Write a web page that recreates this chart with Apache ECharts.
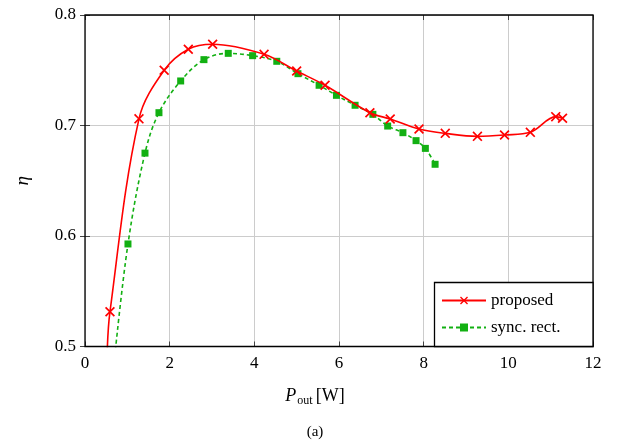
<!DOCTYPE html>
<html>
<head>
<meta charset="utf-8">
<script src="https://cdn.jsdelivr.net/npm/echarts@6/dist/echarts.min.js"></script>
<style>html,body{margin:0;padding:0;background:#fff}#c{width:619px;height:443px}</style>
</head>
<body>
<div id="c"></div>
<script>
// Data
const proposedX = [0.52, 0.59, 1.275, 1.87, 2.44, 3.015, 4.23, 5.0, 5.67, 6.73, 7.21, 7.89, 8.51, 9.27, 9.91, 10.52, 11.12, 11.28];
const proposedY = [0.49, 0.5315, 0.706, 0.750, 0.769, 0.7735, 0.7644, 0.7493, 0.7364, 0.7116, 0.7059, 0.6968, 0.6929, 0.6902, 0.6914, 0.6938, 0.708, 0.7065];
const proposedMarked = [false, true, true, true, true, true, true, true, true, true, true, true, true, true, true, true, true, true];

const syncX = [0.70, 1.015, 1.417, 1.747, 2.26, 2.81, 3.384, 3.96, 4.53, 5.03, 5.53, 5.94, 6.38, 6.80, 7.15, 7.51, 7.82, 8.04, 8.27];
const syncY = [0.49, 0.5928, 0.675, 0.7116, 0.7403, 0.7596, 0.7653, 0.7632, 0.7581, 0.7469, 0.7364, 0.7273, 0.7183, 0.7101, 0.6995, 0.6935, 0.6863, 0.6793, 0.6649];
const syncMarked = [false, true, true, true, true, true, true, true, true, true, true, true, true, true, true, true, true, true, true];

const xTicks = [0, 2, 4, 6, 8, 10, 12];
const yTicks = [0.5, 0.6, 0.7, 0.8];

const seriesNames = ['proposed', 'sync. rect.'];

const FONT = '"Liberation Serif", "DejaVu Serif", serif';
const RED = '#ff0000';
const GREEN = '#12b012';
const XSYM = 'path://M0,1.2 L1.2,0 L5,3.8 L8.8,0 L10,1.2 L6.2,5 L10,8.8 L8.8,10 L5,6.2 L1.2,10 L0,8.8 L3.8,5 Z';

function build(xs, ys, marks) {
  return xs.map((x, i) => marks[i] ? [x, ys[i]] : { value: [x, ys[i]], symbol: 'none' });
}

const chart = echarts.init(document.getElementById('c'), null, { renderer: 'canvas' });

const tickStyle = { show: true, inside: true, length: 5, lineStyle: { color: '#444', width: 1 } };
const gridLine = { show: true, lineStyle: { color: '#cccccc', width: 1 } };

chart.setOption({
  animation: false,
  backgroundColor: '#fff',
  grid: { left: 85, top: 15, right: 26, bottom: 96.5, show: false },
  xAxis: [{
    type: 'value', min: xTicks[0], max: xTicks[xTicks.length - 1], interval: 2,
    axisLine: { show: false }, axisTick: tickStyle, splitLine: gridLine,
    axisLabel: { fontFamily: FONT, fontSize: 17, color: '#000', margin: 9 }
  }, {
    type: 'value', position: 'top', min: xTicks[0], max: xTicks[xTicks.length - 1], interval: 2,
    axisLine: { show: false }, axisTick: tickStyle, splitLine: { show: false }, axisLabel: { show: false }
  }],
  yAxis: [{
    type: 'value', min: yTicks[0], max: yTicks[yTicks.length - 1], interval: 0.1,
    axisLine: { show: false }, axisTick: tickStyle, splitLine: gridLine,
    axisLabel: { fontFamily: FONT, fontSize: 17, color: '#000', margin: 9, formatter: v => v.toFixed(1) },
    name: 'η', nameLocation: 'middle', nameRotate: 90, nameGap: 53,
    nameTextStyle: { fontFamily: FONT, fontSize: 19, fontStyle: 'italic', color: '#000' }
  }, {
    type: 'value', position: 'right', min: yTicks[0], max: yTicks[yTicks.length - 1], interval: 0.1,
    axisLine: { show: false }, axisTick: tickStyle, splitLine: { show: false }, axisLabel: { show: false }
  }],
  legend: {
    orient: 'vertical', left: 441, top: 292, itemGap: 10, itemWidth: 44, itemHeight: 10,
    data: seriesNames,
    textStyle: { fontFamily: FONT, fontSize: 17, color: '#000' },
    padding: 0, z: 20
  },
  graphic: [
    { type: 'rect', shape: { x: 85, y: 15, width: 508, height: 331.5 }, style: { fill: null, stroke: '#000', lineWidth: 1.3 }, z: 15, silent: true },
    { type: 'rect', shape: { x: 434.5, y: 282.5, width: 158.5, height: 64 }, style: { fill: '#fff', stroke: '#000', lineWidth: 1.3 }, z: 16 },
    { type: 'text', x: 315, y: 396, style: {
        text: '{p|P}{s|out} {n|[W]}', align: 'center', verticalAlign: 'middle',
        rich: {
          p: { fontFamily: FONT, fontSize: 18, fontStyle: 'italic', fill: '#000' },
          s: { fontFamily: FONT, fontSize: 12, fill: '#000', padding: [10, 0, 0, 1] },
          n: { fontFamily: FONT, fontSize: 18, fill: '#000' }
        } }, z: 10 },
    { type: 'text', x: 315, y: 432, style: { text: '(a)', align: 'center', verticalAlign: 'middle', fontFamily: FONT, fontSize: 15, fill: '#000' }, z: 10 }
  ],
  series: [{
    name: seriesNames[0], type: 'line', smooth: 0.35, clip: true,
    data: build(proposedX, proposedY, proposedMarked),
    symbol: XSYM, symbolSize: 10, showAllSymbol: true,
    lineStyle: { color: RED, width: 1.6 }, itemStyle: { color: RED }, z: 3
  }, {
    name: seriesNames[1], type: 'line', smooth: 0.35, clip: true,
    data: build(syncX, syncY, syncMarked),
    symbol: 'rect', symbolSize: 7, showAllSymbol: true,
    lineStyle: { color: GREEN, width: 1.6, type: [4, 3] }, itemStyle: { color: GREEN }, z: 2
  }]
});
</script>
</body>
</html>
